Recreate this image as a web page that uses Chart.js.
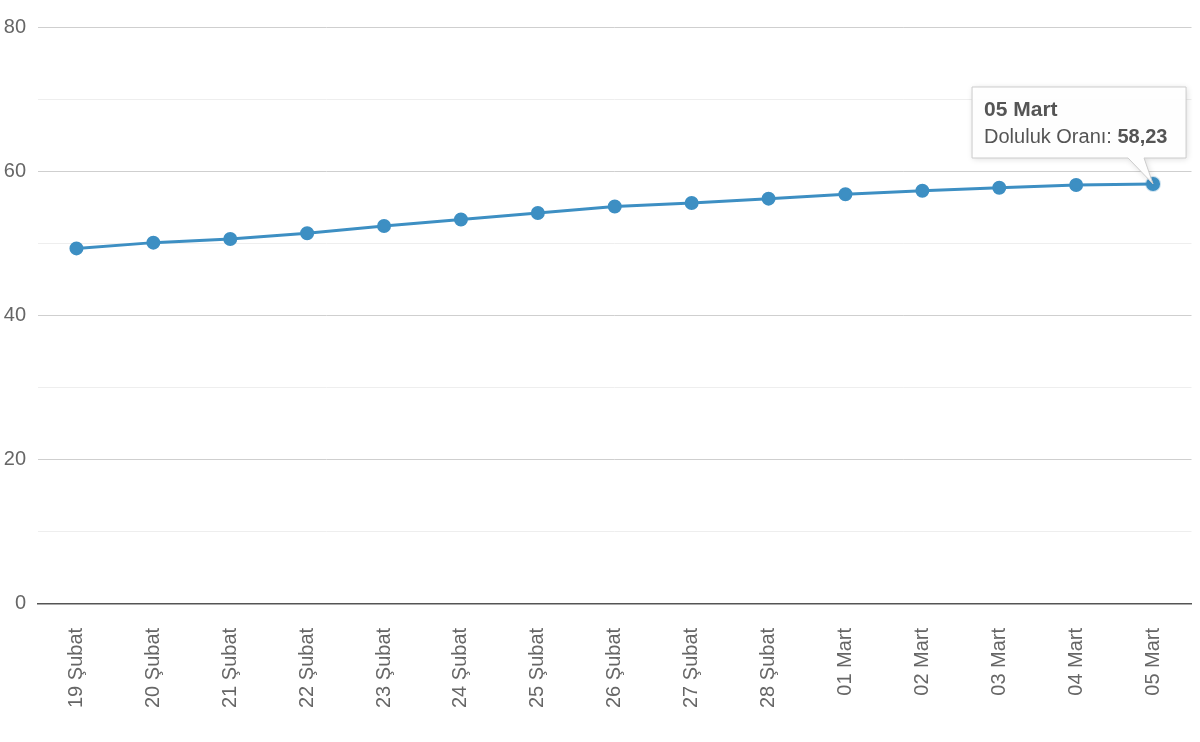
<!DOCTYPE html>
<html>
<head>
<meta charset="utf-8">
<script src="https://cdn.jsdelivr.net/npm/chart.js@4"></script>
<style>
  html, body { margin: 0; padding: 0; background: #fff; }
  #wrap { width: 1200px; height: 742px; }
</style>
</head>
<body>
<div id="wrap"><canvas id="myChart"></canvas></div>
<script>
const days = [
  "19 Şubat", "20 Şubat", "21 Şubat", "22 Şubat", "23 Şubat", "24 Şubat",
  "25 Şubat", "26 Şubat", "27 Şubat", "28 Şubat", "01 Mart", "02 Mart",
  "03 Mart", "04 Mart", "05 Mart",
];
const occupancy = [
  49.3, 50.1, 50.6, 51.4, 52.4, 53.3, 54.2, 55.1, 55.6, 56.2, 56.8, 57.3,
  57.7, 58.1, 58.23,
];
const seriesName = "Doluluk Oranı";
const fontFamily = "'Liberation Sans', Arial, sans-serif";

// draws the Highcharts-like tooltip on the last point
const fixedTooltip = {
  id: "fixedTooltip",
  afterDraw(chart) {
    const meta = chart.getDatasetMeta(0);
    const i = meta.data.length - 1;
    const pt = meta.data[i];
    const ctx = chart.ctx;
    const title = days[i];
    const value = occupancy[i].toFixed(2).replace(".", ",");

    const w = 214, h = 71;
    const bx = pt.x - 181, by = pt.y - 97;

    ctx.save();
    // halo on hovered point
    ctx.beginPath();
    ctx.arc(pt.x, pt.y, 8, 0, Math.PI * 2);
    ctx.fillStyle = "rgba(61,143,195,0.25)";
    ctx.fill();

    ctx.shadowColor = "rgba(0,0,0,0.15)";
    ctx.shadowBlur = 6;
    ctx.shadowOffsetX = 1;
    ctx.shadowOffsetY = 1;
    ctx.beginPath();
    ctx.moveTo(bx, by);
    ctx.lineTo(bx + w, by);
    ctx.lineTo(bx + w, by + h);
    ctx.lineTo(bx + 172, by + h);
    ctx.lineTo(pt.x, pt.y);
    ctx.lineTo(bx + 156, by + h);
    ctx.lineTo(bx, by + h);
    ctx.closePath();
    ctx.fillStyle = "rgba(255,255,255,0.95)";
    ctx.fill();
    ctx.shadowColor = "transparent";
    ctx.strokeStyle = "#cccccc";
    ctx.lineWidth = 1;
    ctx.stroke();

    ctx.fillStyle = "#555";
    ctx.textBaseline = "alphabetic";
    ctx.textAlign = "left";
    ctx.font = "bold 21px " + fontFamily;
    ctx.fillText(title, bx + 12, by + 29);
    ctx.font = "20px " + fontFamily;
    const label = seriesName + ": ";
    ctx.fillText(label, bx + 12, by + 56);
    const lw = ctx.measureText(label).width;
    ctx.font = "bold 20px " + fontFamily;
    ctx.fillText(value, bx + 12 + lw, by + 56);
    ctx.restore();
  },
};

new Chart(document.getElementById("myChart"), {
  type: "line",
  data: {
    labels: days,
    datasets: [
      {
        label: seriesName,
        data: occupancy,
        borderColor: "#3d8fc3",
        backgroundColor: "#3d8fc3",
        borderWidth: 3,
        pointRadius: 5.5,
        pointHoverRadius: 5.5,
        tension: 0,
      },
    ],
  },
  options: {
    responsive: true,
    maintainAspectRatio: false,
    animation: false,
    events: [],
    layout: { padding: { top: 27, right: 8, bottom: 10, left: 2 } },
    plugins: {
      legend: { display: false },
      tooltip: { enabled: false },
    },
    scales: {
      x: {
        offset: true,
        afterFit(axis) {
          axis.paddingLeft = 0;
          axis.paddingRight = 0;
        },
        grid: { display: false, drawTicks: false },
        border: { display: true, color: "#555", width: 1.5 },
        ticks: {
          color: "#666",
          font: { family: fontFamily, size: 20 },
          maxRotation: 90,
          minRotation: 90,
          padding: 24,
          autoSkip: false,
        },
      },
      y: {
        min: 0,
        max: 80,
        afterFit(axis) {
          axis.width = 36;
        },
        grid: {
          drawTicks: false,
          color: (c) => (c.tick && c.tick.value % 20 === 0 ? "#cfcfcf" : "#eeeeee"),
        },
        border: { display: false },
        ticks: {
          stepSize: 10,
          color: "#666",
          padding: 12,
          font: { family: fontFamily, size: 20 },
          callback: (v) => (v % 20 === 0 ? v : ""),
        },
      },
    },
  },
  plugins: [fixedTooltip],
});
</script>
</body>
</html>
